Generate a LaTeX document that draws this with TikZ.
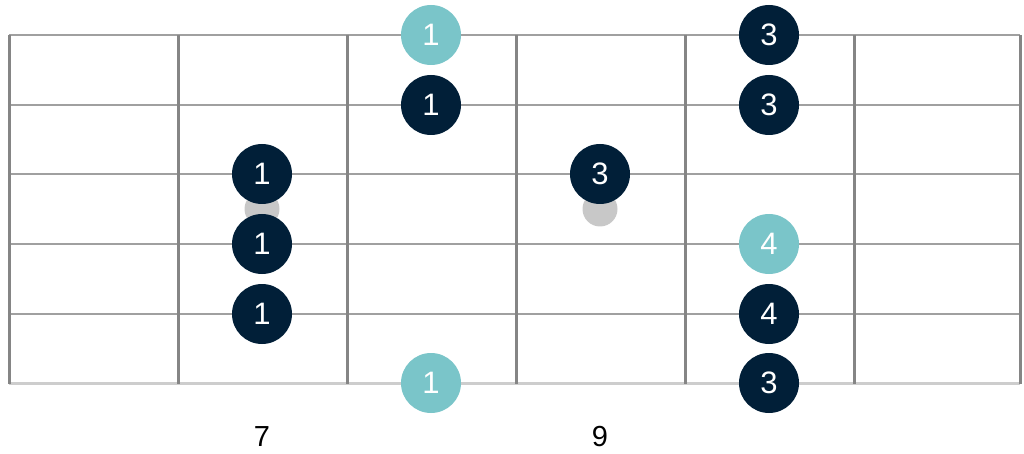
\documentclass[tikz,border=0pt]{standalone}
\usepackage{fontspec}
\setmainfont{Liberation Sans}
\usetikzlibrary{positioning}

\definecolor{navy}{HTML}{011F38}
\definecolor{teal}{HTML}{7AC5C9}
\definecolor{inlay}{HTML}{C8C8C8}
\definecolor{fretgray}{HTML}{858585}
\definecolor{stringgray}{HTML}{A0A0A0}

\begin{document}
\begin{tikzpicture}[
    x=1pt, y=-1pt,
    fret/.style={draw=fretgray, line width=3pt},
    string/.style={draw=stringgray, line width=1.5pt},
    marker/.style={circle, fill=inlay, minimum size=35pt, inner sep=0pt},
    note/.style={circle, fill=navy, text=white, minimum size=60pt, inner sep=0pt, font=\fontsize{31}{33}\selectfont},
    root/.style={note, fill=teal},
    fretnum/.style={font=\fontsize{29}{31}\selectfont, text=black}
]
\useasboundingbox (0,0) rectangle (1024,454);

% Strings
\foreach \y in {35,105,174,244,314}
    \draw[string] (9,\y) -- (1020,\y);
\draw[draw=inlay!90, line width=3pt] (9,383) -- (1020,383);

% Frets
\foreach \x in {9,178,347,516,685,854,1020}
    \draw[fret] (\x,35) -- (\x,384);

% Inlays
\node[marker] (inlay7) at (262,209) {};
\node[marker] (inlay9) at (600,209) {};

% Fret 7
\node[note] (s3f7) at (262,174) {1};
\node[note] (s4f7) at (262,244) {1};
\node[note] (s5f7) at (262,314) {1};

% Fret 8
\node[root] (s1f8) at (431,35) {1};
\node[note] (s2f8) at (431,105) {1};
\node[root] (s6f8) at (431,383) {1};

% Fret 9
\node[note] (s3f9) at (600,174) {3};

% Fret 10
\node[note] (s1f10) at (769,35) {3};
\node[note] (s2f10) at (769,105) {3};
\node[root] (s4f10) at (769,244) {4};
\node[note] (s5f10) at (769,314) {4};
\node[note] (s6f10) at (769,383) {3};

% Fret numbers
\node[fretnum] (num7) at (262,437) {7};
\node[fretnum] (num9) at (600,437) {9};
\end{tikzpicture}
\end{document}
